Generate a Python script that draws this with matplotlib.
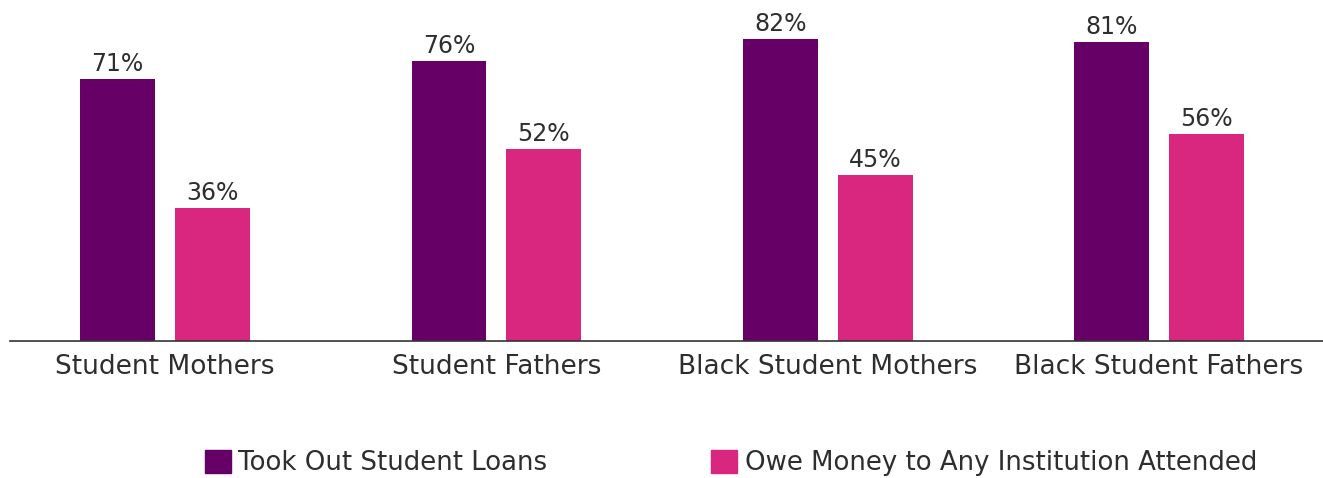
import matplotlib
matplotlib.use("Agg")
import matplotlib.pyplot as plt
from matplotlib.patches import Patch
import numpy as np

categories = ["Student Mothers", "Student Fathers", "Black Student Mothers", "Black Student Fathers"]
loans = [71, 76, 82, 81]
owe = [36, 52, 45, 56]
series_names = ["Took Out Student Loans", "Owe Money to Any Institution Attended"]
colors = ["#660066", "#D9277F"]

plt.rcParams['font.family'] = ['DejaVu Sans']

W, H = 1323, 478
fig = plt.figure(figsize=(W/100, H/100), dpi=100)
ax = fig.add_axes([10/W, (H-341)/H, (W-10)/W, (341-9)/H])

x = np.arange(len(categories))
bw = 0.226
off = 0.143
b1 = ax.bar(x - off, loans, bw, color=colors[0])
b2 = ax.bar(x + off, owe, bw, color=colors[1])
for bars, vals in ((b1, loans), (b2, owe)):
    for r, v in zip(bars, vals):
        ax.text(r.get_x() + r.get_width()/2, v + 0.8, f"{v}%", ha='center', va='bottom',
                fontsize=17, color='#2e2e2e')

ax.set_xlim(-0.468, 3.495)
ax.set_ylim(0, 90)
for s in ['top', 'right', 'left']:
    ax.spines[s].set_visible(False)
ax.spines['bottom'].set_color('#333333')
ax.spines['bottom'].set_linewidth(1.2)
ax.set_yticks([])
ax.set_xticks(x)
ax.set_xticklabels(categories, fontsize=19, color='#2e2e2e')
ax.tick_params(axis='x', length=0, pad=9.5)

handles = [Patch(color=c) for c in colors]
fig.legend(handles, series_names, loc='center', bbox_to_anchor=(731/W, (H-463)/H),
           ncol=2, frameon=False, fontsize=18.7, handlelength=1.0, handleheight=1.0,
           handletextpad=0.3, columnspacing=6.3, labelcolor='#2e2e2e')

fig.savefig("out.png", dpi=100)
